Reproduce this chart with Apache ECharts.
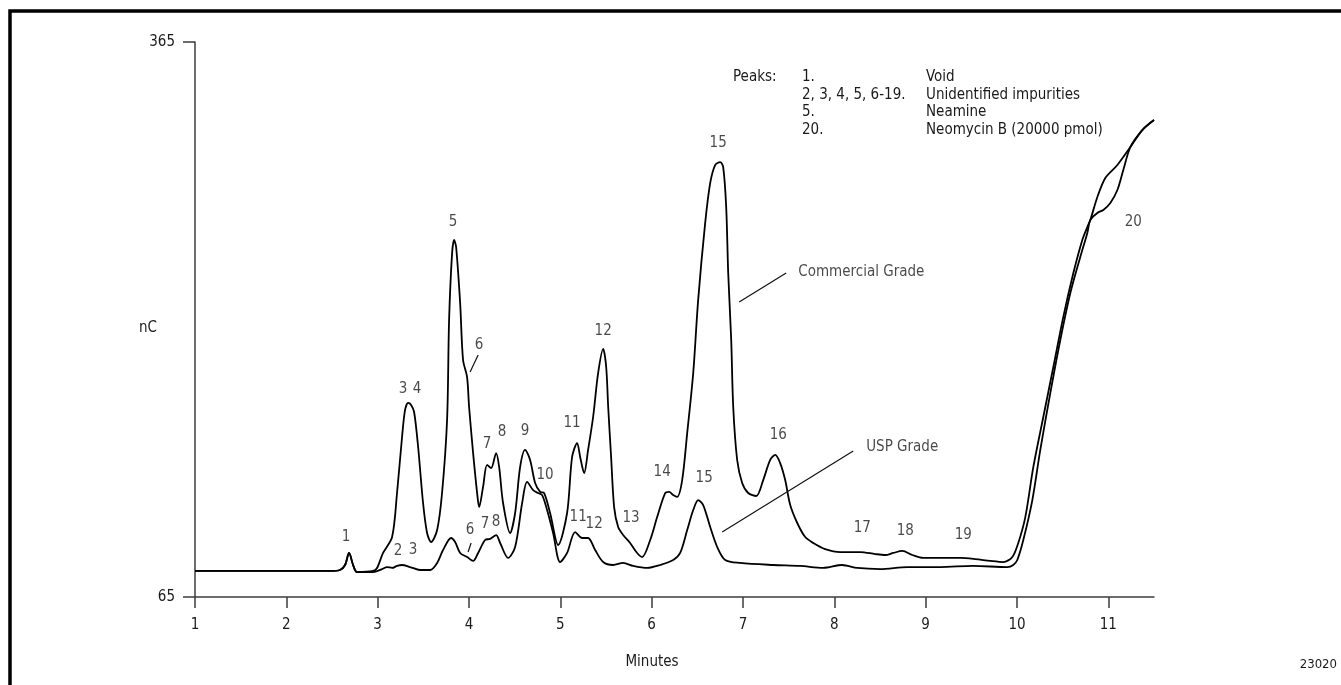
<!DOCTYPE html>
<html>
<head>
<meta charset="utf-8">
<script src="https://cdn.jsdelivr.net/npm/echarts@6/dist/echarts.min.js"></script>
<style>
  html, body { margin: 0; padding: 0; background: #fff; }
  #chart { width: 1341px; height: 685px; }
</style>
</head>
<body>
<div id="chart"></div>
<script>
// Chromatogram: Neomycin B, commercial grade vs USP grade (nC vs minutes)
const FONT = "'Liberation Sans Narrow','Arial Narrow','DejaVu Sans Condensed','Roboto',sans-serif";
const FS = 15;

const xTicks = [1, 2, 3, 4, 5, 6, 7, 8, 9, 10, 11];
const yTicks = [65, 365];

// Commercial grade trace
const commercialTime = [
  1.00, 2.479, 2.588, 2.643, 2.687, 2.731, 2.774, 2.950, 2.993, 3.059, 3.158, 3.212, 3.267, 3.300,
  3.333, 3.366, 3.399, 3.443, 3.497, 3.541, 3.585, 3.651, 3.705, 3.760, 3.782, 3.815, 3.837, 3.859,
  3.903, 3.935, 3.979, 4.001, 4.045, 4.089, 4.111, 4.154, 4.198, 4.242, 4.297, 4.330, 4.373, 4.450,
  4.505, 4.560, 4.614, 4.669, 4.724, 4.779, 4.823, 4.888, 4.976, 5.074, 5.129, 5.184, 5.217, 5.261,
  5.304, 5.359, 5.414, 5.469, 5.502, 5.524, 5.556, 5.589, 5.633, 5.688, 5.764, 5.841, 5.896, 5.984,
  6.060, 6.148, 6.192, 6.235, 6.279, 6.334, 6.389, 6.455, 6.509, 6.586, 6.641, 6.695, 6.750, 6.783,
  6.816, 6.838, 6.871, 6.893, 6.936, 6.991, 7.057, 7.145, 7.221, 7.298, 7.353, 7.407, 7.462, 7.517,
  7.594, 7.681, 7.769, 7.900, 8.065, 8.284, 8.448, 8.558, 8.645, 8.744, 8.853, 8.974, 9.215, 9.379,
  9.543, 9.708, 9.850, 9.949, 10.014, 10.091, 10.179, 10.288, 10.398, 10.507, 10.617, 10.715, 10.770,
  10.803, 10.880, 10.967, 11.099, 11.241, 11.372, 11.500
];
const commercialSignal = [
  79.1, 79.1, 79.6, 82.3, 88.8, 82.3, 78.5, 79.1, 80.7, 88.8, 97.4, 121.2, 151.5, 166.1,
  169.9, 168.8, 165.0, 146.1, 115.8, 99.6, 94.7, 101.2, 121.2, 160.7, 214.7, 250.9, 258.0, 254.2,
  223.9, 193.1, 183.9, 167.7, 142.8, 121.2, 113.6, 124.5, 136.4, 134.7, 142.8, 135.3, 115.8, 99.6,
  110.4, 135.3, 144.5, 139.1, 126.6, 121.8, 121.2, 110.4, 93.1, 110.4, 140.7, 148.2, 140.7, 132.0,
  144.5, 162.3, 186.1, 199.1, 189.3, 167.7, 140.7, 113.6, 102.8, 98.5, 94.2, 88.8, 86.6, 95.8,
  108.2, 121.2, 121.8, 120.1, 119.1, 128.2, 153.6, 186.1, 225.5, 267.2, 288.8, 298.5, 300.1, 297.4,
  275.8, 240.1, 203.9, 167.7, 139.1, 126.6, 121.2, 119.6, 128.2, 139.1, 141.8, 137.4, 128.2, 114.7,
  105.0, 97.4, 94.2, 90.9, 89.3, 89.3, 88.2, 87.7, 88.8, 89.9, 87.7, 86.1, 86.1, 86.1,
  85.5, 84.5, 83.9, 86.6, 94.2, 108.2, 135.3, 162.3, 189.3, 216.4, 240.1, 258.0, 265.0,
  268.8, 281.2, 291.5, 298.5, 308.2, 317.4, 322.8
];

// USP grade trace
const uspTime = [
  1.00, 2.479, 2.588, 2.643, 2.687, 2.731, 2.774, 2.950, 3.048, 3.103, 3.158, 3.212, 3.267, 3.355,
  3.464, 3.574, 3.651, 3.716, 3.804, 3.848, 3.903, 3.979, 4.045, 4.100, 4.176, 4.231, 4.297, 4.341,
  4.428, 4.505, 4.582, 4.636, 4.702, 4.757, 4.801, 4.855, 4.921, 4.998, 5.074, 5.162, 5.239, 5.304,
  5.381, 5.469, 5.578, 5.688, 5.797, 5.951, 6.093, 6.236, 6.312, 6.389, 6.455, 6.509, 6.564, 6.641,
  6.718, 6.805, 6.969, 7.331, 7.626, 7.878, 8.086, 8.251, 8.503, 8.798, 9.160, 9.521, 9.894, 9.959,
  10.003, 10.069, 10.168, 10.255, 10.365, 10.474, 10.584, 10.693, 10.770, 10.803, 10.880, 10.945,
  11.022, 11.099, 11.164, 11.241, 11.372, 11.500
];
const uspSignal = [
  79.1, 79.1, 79.6, 82.3, 88.8, 82.3, 78.5, 78.5, 80.1, 81.2, 80.7, 81.8, 82.3, 81.2,
  79.6, 79.6, 83.4, 90.4, 96.9, 94.7, 88.8, 86.6, 84.5, 88.8, 95.8, 96.4, 98.5, 94.2,
  86.1, 92.0, 115.8, 127.2, 122.8, 121.2, 120.1, 112.0, 99.6, 83.9, 88.8, 100.1, 96.9, 96.9,
  90.4, 83.9, 82.3, 83.4, 81.8, 80.7, 82.3, 85.0, 88.8, 101.2, 112.0, 117.4, 114.7, 102.8,
  92.0, 85.0, 83.4, 82.3, 81.8, 80.7, 82.3, 80.7, 80.1, 81.2, 81.2, 81.8, 81.2, 82.3,
  85.0, 95.8, 117.4, 144.5, 175.3, 203.9, 229.3, 248.8, 261.8, 268.8, 272.6, 274.2,
  278.0, 285.0, 295.8, 308.2, 317.4, 322.8
];

// Peak numbers written beside the traces
const peakText = [
  '1', '3', '4', '5', '6', '7', '8', '9', '10', '11', '12', '13', '14', '15', '16', '17', '18', '19', '20',
  '2', '3', '6', '7', '8', '11', '12', '15'
];
const peakTime = [
  2.654, 3.278, 3.432, 3.826, 4.111, 4.198, 4.363, 4.614, 4.833, 5.129, 5.469, 5.775, 6.115, 6.728, 7.386, 8.306, 8.777, 9.412, 11.274,
  3.223, 3.388, 4.012, 4.176, 4.297, 5.195, 5.370, 6.575
];
const peakSignal = [
  97.4, 177.4, 177.4, 267.7, 201.2, 147.7, 154.2, 154.7, 130.9, 159.1, 208.8, 107.7, 132.6, 310.4, 152.6, 102.3, 100.7, 98.5, 267.7,
  89.9, 90.4, 101.2, 104.5, 105.5, 108.2, 104.5, 129.3
];

// Trace names and where they sit
const traceNames = ['Commercial Grade', 'USP Grade'];
const traceNameTime = [7.605, 8.349];
const traceNameSignal = [240.7, 146.1];

// Leader segments: [t0, s0, t1, s1]
const leaders = [
  [6.958, 224.5, 7.473, 240.1],
  [6.772, 100.1, 8.207, 143.9],
  [4.012, 186.6, 4.100, 195.8],
  [3.990, 89.3, 4.023, 94.2]
];

const legendRows = [
  ['Peaks:', '1.', 'Void'],
  ['', '2, 3, 4, 5, 6-19.', 'Unidentified impurities'],
  ['', '5.', 'Neamine'],
  ['', '20.', 'Neomycin B (20000 pmol)']
];

const TXT = '#1a1a1a';
const AXIS = '#3c3c3c';

const zip = (xs, ys) => xs.map((x, i) => [x, ys[i]]);

function textAt(x, y, text, align, size) {
  return {
    type: 'text', x: x, y: y, silent: true,
    style: { text: text, fill: TXT, font: (size || FS) + 'px ' + FONT, align: align || 'left', verticalAlign: 'middle' }
  };
}

const legendGraphics = [];
const rowY = [77, 95, 112, 130];
const colX = [733, 802, 926];
legendRows.forEach((row, r) => {
  row.forEach((txt, c) => {
    if (txt) legendGraphics.push(textAt(colX[c], rowY[r], txt, 'left'));
  });
});

const chart = echarts.init(document.getElementById('chart'), null, { renderer: 'canvas' });
chart.setOption({
  animation: false,
  backgroundColor: '#fff',
  grid: { left: 195, right: 187, top: 42, bottom: 88 },
  xAxis: {
    type: 'value', min: 1, max: 11.5,
    axisLine: { show: true, lineStyle: { color: AXIS, width: 1.5 } },
    axisTick: { show: true, customValues: xTicks, length: 11, lineStyle: { color: AXIS, width: 1.5 } },
    axisLabel: { customValues: xTicks, margin: 21, color: TXT, fontSize: FS, fontFamily: FONT },
    splitLine: { show: false }
  },
  yAxis: {
    type: 'value', min: 65, max: 365,
    axisLine: { show: true, lineStyle: { color: AXIS, width: 1.5 } },
    axisTick: { show: true, customValues: yTicks, length: 12, lineStyle: { color: AXIS, width: 1.5 } },
    axisLabel: { customValues: yTicks, margin: 20, color: TXT, fontSize: FS, fontFamily: FONT },
    splitLine: { show: false }
  },
  series: [
    {
      name: 'Commercial Grade', type: 'line', data: zip(commercialTime, commercialSignal),
      showSymbol: false, smooth: 0.3,
      lineStyle: { color: '#000', width: 1.8 }, z: 3
    },
    {
      name: 'USP Grade', type: 'line', data: zip(uspTime, uspSignal),
      showSymbol: false, smooth: 0.3,
      lineStyle: { color: '#000', width: 1.8 }, z: 3
    },
    {
      name: 'Peak numbers', type: 'scatter', symbolSize: 0, silent: true,
      data: peakTime.map((t, i) => ({ value: [t, peakSignal[i]], name: peakText[i] })),
      label: {
        show: true, position: 'inside', formatter: p => p.name,
        color: TXT, fontSize: FS, fontFamily: FONT
      },
      markLine: {
        silent: true, symbol: ['none', 'none'], animation: false,
        label: { show: false },
        lineStyle: { color: '#111', width: 1.2, type: 'solid' },
        data: leaders.map(l => [{ coord: [l[0], l[1]] }, { coord: [l[2], l[3]] }])
      },
      z: 4
    },
    {
      name: 'Trace names', type: 'scatter', symbolSize: 0, silent: true,
      data: traceNameTime.map((t, i) => ({ value: [t, traceNameSignal[i]], name: traceNames[i] })),
      label: {
        show: true, position: 'right', distance: 0, formatter: p => p.name,
        color: TXT, fontSize: FS, fontFamily: FONT
      },
      z: 4
    }
  ],
  graphic: [
    {
      type: 'polyline', silent: true,
      shape: { points: [[10, 685], [10, 11], [1341, 11]] },
      style: { stroke: '#000', lineWidth: 3.5, fill: null }
    },
    textAt(148, 328, 'nC', 'center'),
    textAt(652, 662, 'Minutes', 'center'),
    textAt(1337, 665, '23020', 'right', 13)
  ].concat(legendGraphics)
});
</script>
</body>
</html>
